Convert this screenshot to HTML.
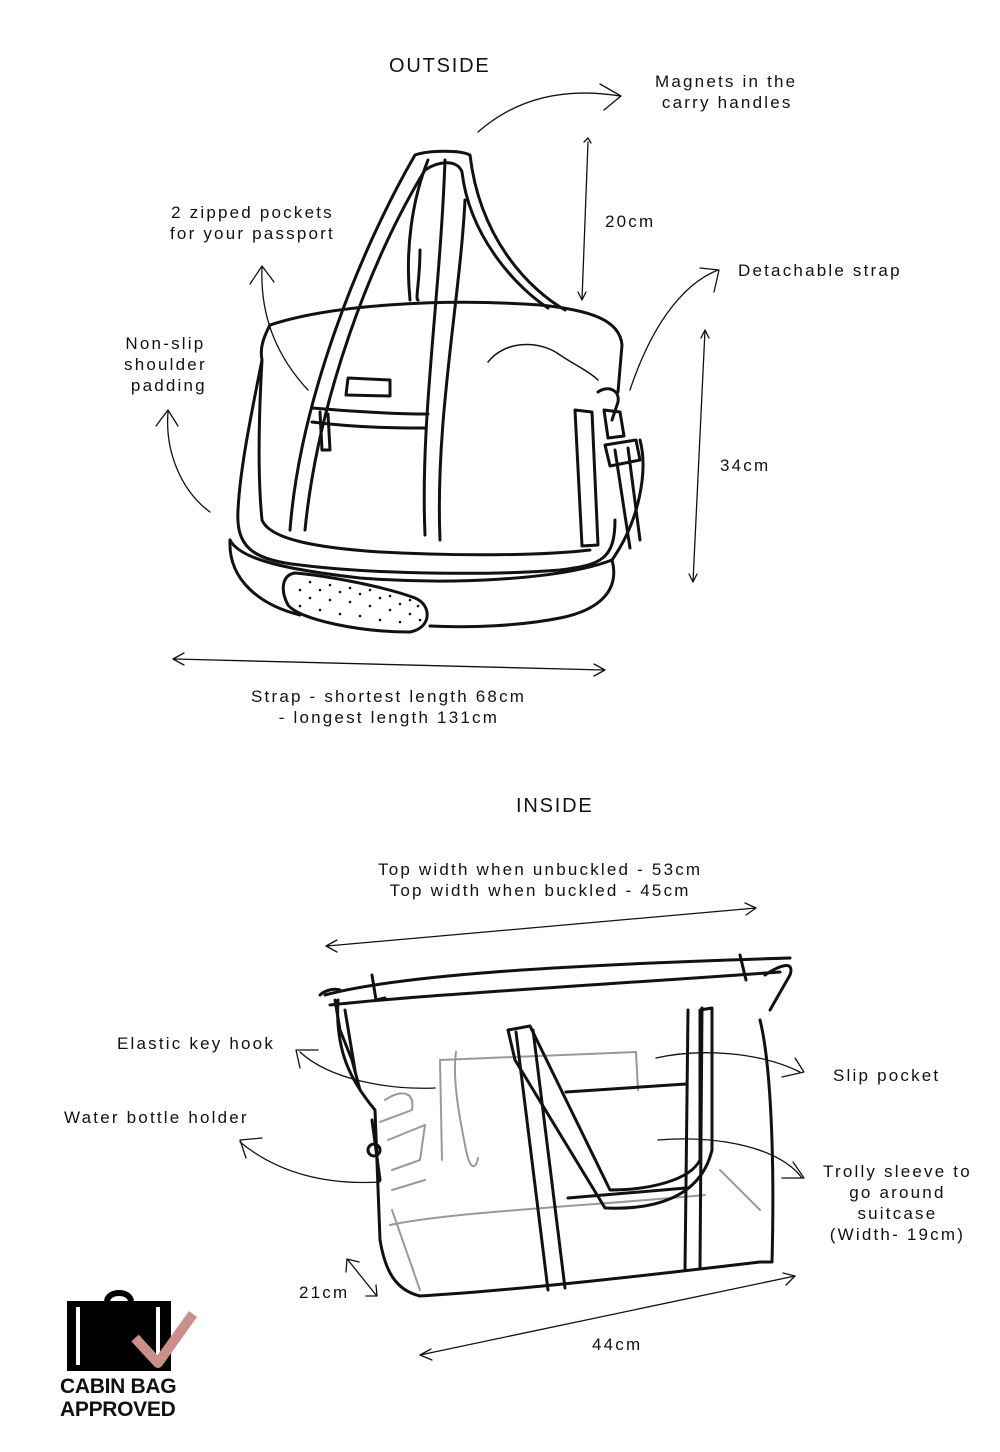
<!DOCTYPE html>
<html><head><meta charset="utf-8"><style>
html,body{margin:0;padding:0;background:#fff;}
body{width:1000px;height:1452px;position:relative;overflow:hidden;font-family:"Liberation Sans",sans-serif;color:#111;}
.t{position:absolute;font-size:17px;letter-spacing:2.2px;line-height:21px;white-space:nowrap;}
.c{text-align:center;}
.h{font-size:20px;letter-spacing:1.8px;}
svg{position:absolute;left:0;top:0;}
.b{font-weight:900;font-size:21px;letter-spacing:-0.3px;line-height:23px;position:absolute;}
</style></head><body>
<svg width="1000" height="1452" viewBox="0 0 1000 1452" fill="none" stroke="#111" stroke-width="1.3" stroke-linecap="round" stroke-linejoin="round">
<path d="M478 132 C520 95 570 88 620 96"/><path d="M600 84 L621 96 L604 110"/>
<path d="M588 142 L582 300"/><path d="M584 142 l4 -4 l3 5"/><path d="M578 292 l4 8 l4 -8"/>
<path d="M630 390 C650 330 680 285 718 270"/><path d="M700 268 L719 270 L714 292"/>
<path d="M705 330 L693 582"/><path d="M701 338 l4 -8 l4 8"/><path d="M689 574 l4 8 l4 -8"/>
<path d="M308 390 C280 360 260 320 262 268"/><path d="M250 284 L262 266 L274 282"/>
<path d="M210 512 C180 490 165 450 168 412"/><path d="M156 426 L168 410 L178 426"/>
<path d="M174 659 L604 670"/><path d="M184 653 L173 659 L184 665"/><path d="M594 664 L605 670 L594 676"/>
<g stroke-width="3">
<path d="M270 325 C330 305 440 298 540 305 C590 310 620 320 622 345 L618 392"/>
<path d="M270 325 C262 340 260 350 262 360"/>
<path d="M262 360 C250 420 240 470 238 510 C236 545 250 560 300 565 C380 575 500 575 560 570 C600 565 615 560 615 520"/>
<path d="M262 360 C258 430 258 480 262 520 C270 540 320 548 380 552 C450 556 540 556 590 550"/>
<path d="M230 540 C228 580 260 605 300 615"/>
<path d="M230 540 C240 560 290 570 360 578 C450 585 560 580 612 560 C620 590 600 610 560 618 C520 626 470 628 430 626"/>
<path d="M612 560 C640 520 648 470 640 440"/>
<path d="M615 450 L630 548"/><path d="M628 448 L640 540"/>
<path d="M605 445 L636 440 L640 460 L610 466 Z"/>
<path d="M598 392 C608 385 620 390 618 402 L612 420"/>
<path d="M604 410 L620 412 L624 436 L608 438 Z"/>
<path d="M575 410 L592 412 L598 545 L582 546 Z"/>
<path d="M290 530 C300 400 360 250 415 155 C430 150 460 150 470 155 C480 240 530 290 565 310"/>
<path d="M305 530 C318 400 370 260 425 170 C440 160 458 160 462 172 C470 240 520 290 548 308"/>
<path d="M410 300 C405 250 412 200 428 160"/>
<path d="M425 535 C420 420 440 300 445 160"/>
<path d="M440 540 C435 420 460 300 465 200"/>
<path d="M420 250 C420 280 415 300 418 300"/>
<path d="M312 408 C360 412 400 414 428 414"/><path d="M312 422 C360 428 400 428 425 428"/>
<path d="M320 412 L322 450 L330 450 L328 414"/>
<path d="M348 378 L390 380 L390 396 L346 395 Z"/>
<path d="M488 362 C505 340 540 340 560 355 C575 365 590 372 598 380" stroke-width="1.5"/>
<path d="M295 573 C320 575 380 585 415 598 C432 605 432 628 410 632 C360 632 300 620 288 605 C280 590 282 575 295 573 Z"/>
</g>
<g fill="#111" stroke="none">
<circle cx="300" cy="590" r="1.3"/><circle cx="310" cy="598" r="1.3"/><circle cx="320" cy="590" r="1.3"/><circle cx="330" cy="600" r="1.3"/><circle cx="340" cy="592" r="1.3"/><circle cx="350" cy="602" r="1.3"/><circle cx="360" cy="594" r="1.3"/><circle cx="370" cy="606" r="1.3"/><circle cx="380" cy="598" r="1.3"/><circle cx="390" cy="610" r="1.3"/><circle cx="400" cy="604" r="1.3"/><circle cx="410" cy="614" r="1.3"/><circle cx="418" cy="606" r="1.3"/><circle cx="300" cy="606" r="1.3"/><circle cx="320" cy="610" r="1.3"/><circle cx="340" cy="614" r="1.3"/><circle cx="360" cy="616" r="1.3"/><circle cx="380" cy="620" r="1.3"/><circle cx="400" cy="622" r="1.3"/><circle cx="310" cy="582" r="1.3"/><circle cx="330" cy="585" r="1.3"/><circle cx="350" cy="588" r="1.3"/><circle cx="370" cy="590" r="1.3"/><circle cx="390" cy="596" r="1.3"/><circle cx="410" cy="600" r="1.3"/><circle cx="420" cy="620" r="1.3"/>
</g>
<path d="M327 946 L756 908"/><path d="M337 940 L326 946 L337 952"/><path d="M745 903 L756 908 L746 915"/>
<path d="M420 1355 L795 1276"/><path d="M431 1349 L420 1355 L432 1360"/><path d="M783 1273 L795 1276 L786 1285"/>
<path d="M348 1260 L376 1295"/><path d="M346 1272 L347 1259 L359 1262"/><path d="M366 1296 L377 1296 L376 1285"/>
<path d="M300 1052 C330 1080 390 1090 435 1088"/><path d="M318 1050 L296 1050 L300 1068"/>
<path d="M240 1142 C280 1175 330 1185 380 1182"/><path d="M262 1138 L240 1140 L246 1158"/>
<path d="M656 1058 C700 1048 760 1052 800 1072"/><path d="M795 1058 L804 1072 L782 1077"/>
<path d="M658 1140 C720 1135 780 1148 802 1178"/><path d="M793 1162 L804 1178 L782 1178"/>
<g stroke="#999" stroke-width="2">
<path d="M440 1060 L636 1052 L638 1090"/><path d="M440 1060 L442 1160"/>
<path d="M456 1052 C452 1080 460 1120 466 1150 C470 1170 476 1170 478 1158"/>
<path d="M388 1140 L425 1125 L420 1160 L392 1170"/><path d="M392 1190 L425 1180"/>
<path d="M385 1100 C400 1090 415 1090 412 1110 L380 1122"/>
<path d="M390 1225 C450 1212 600 1205 705 1195"/>
<path d="M392 1210 L420 1290"/><path d="M720 1170 L760 1210"/>
</g>
<g stroke-width="3">
<path d="M325 995 C400 975 560 965 790 958"/>
<path d="M330 1005 C420 995 600 985 780 972"/>
<path d="M372 975 L376 1000 L385 998"/>
<path d="M740 955 L746 980"/>
<path d="M338 1000 C335 1050 350 1080 375 1110 L380 1240 C385 1270 395 1290 420 1296 C520 1290 650 1275 760 1262"/>
<path d="M760 1020 C770 1060 775 1150 772 1262 L760 1262"/>
<path d="M765 975 C780 965 795 960 790 975 L770 1010"/>
<path d="M335 1000 L340 1030 L352 1060 L360 1090"/>
<path d="M345 1010 L355 1070"/>
<path d="M372 1120 L380 1180"/><circle cx="374" cy="1150" r="6"/>
<path d="M320 995 C325 990 335 988 340 990"/>
<path d="M508 1030 L530 1026 L610 1190 C650 1190 690 1180 700 1160 L700 1010 L712 1008 L712 1150 C700 1200 650 1210 605 1208 L515 1060 Z"/>
<path d="M516 1032 L548 1290"/><path d="M533 1030 L565 1288"/>
<path d="M688 1010 L685 1270"/><path d="M702 1008 L700 1268"/>
<path d="M566 1092 L686 1084"/><path d="M568 1198 L686 1188"/>
</g>
<rect x="67" y="1301" width="104" height="70" fill="#000" stroke="none"/>
<path d="M107 1302 C107 1290 131 1290 131 1302" stroke="#000" stroke-width="6"/>
<rect x="76" y="1307" width="4" height="58" fill="#fff" stroke="none"/>
<rect x="156" y="1307" width="4" height="58" fill="#fff" stroke="none"/>
<path d="M135 1338 L158 1363 L193 1314" stroke="#c98f88" stroke-width="10" stroke-linecap="butt"/>
</svg>
<div class="t h" style="left:389px;top:56px">OUTSIDE</div>
<div class="t" style="left:655px;top:71px">Magnets in the<br>&nbsp;carry handles</div>
<div class="t" style="left:605px;top:211px">20cm</div>
<div class="t c" style="left:170px;top:202px">2 zipped pockets<br>for your passport</div>
<div class="t" style="left:738px;top:260px">Detachable strap</div>
<div class="t c" style="left:124px;top:333px">Non-slip<br>shoulder<br>&nbsp;padding</div>
<div class="t" style="left:720px;top:455px">34cm</div>
<div class="t" style="left:251px;top:686px">Strap - shortest length 68cm<br>&nbsp;&nbsp;&nbsp;&nbsp;- longest length 131cm</div>
<div class="t h" style="left:516px;top:796px">INSIDE</div>
<div class="t c" style="left:378px;top:859px">Top width when unbuckled - 53cm<br>Top width when buckled - 45cm</div>
<div class="t" style="left:117px;top:1033px">Elastic key hook</div>
<div class="t" style="left:64px;top:1107px">Water bottle holder</div>
<div class="t" style="left:833px;top:1065px">Slip pocket</div>
<div class="t c" style="left:823px;top:1161px">Trolly sleeve to<br>go around<br>suitcase<br>(Width- 19cm)</div>
<div class="t" style="left:299px;top:1282px">21cm</div>
<div class="t" style="left:592px;top:1334px">44cm</div>
<div class="b" style="left:60px;top:1375px">CABIN BAG<br>APPROVED</div>
</body></html>
